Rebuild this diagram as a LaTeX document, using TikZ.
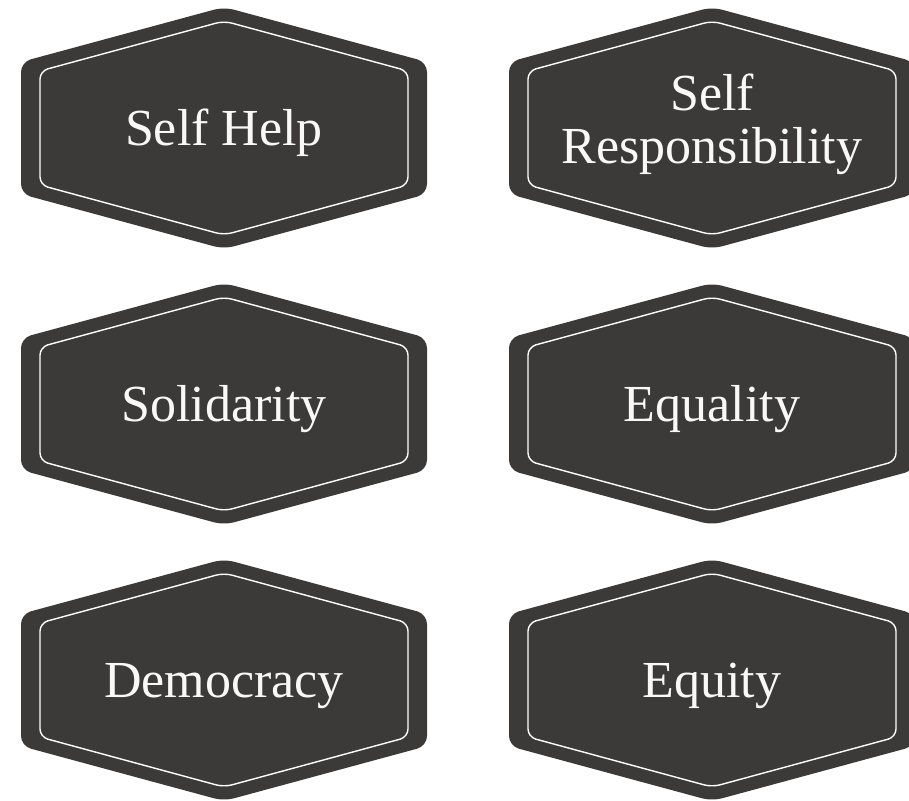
\documentclass[tikz,border=0pt]{standalone}
\usepackage{fontspec}
\setmainfont{Liberation Serif}
\definecolor{badge}{HTML}{3B3A39}
\definecolor{badgetext}{HTML}{F8F8F6}
\tikzset{
  hexbadge/.pic={
    \fill[badge, rounded corners=10pt] (0,121) -- (203,66) -- (203,-66) -- (0,-121) -- (-203,-66) -- (-203,66) -- cycle;
    \draw[white, line width=1.4pt, rounded corners=8pt] (0,107) -- (184,57) -- (184,-57) -- (0,-107) -- (-184,-57) -- (-184,57) -- cycle;
  },
  lbl/.style={text=badgetext, font=\fontsize{52}{53}\selectfont, align=center, anchor=base, inner sep=0pt}
}
\begin{document}
\begin{tikzpicture}[x=1pt,y=1pt]
\useasboundingbox (0,0) rectangle (909,-800);
\clip (0,0) rectangle (909,-800);
\pic at (224,-128) {hexbadge};
\pic at (712,-128) {hexbadge};
\pic at (224,-404) {hexbadge};
\pic at (712,-404) {hexbadge};
\pic at (224,-680) {hexbadge};
\pic at (712,-680) {hexbadge};
\node[lbl] (selfhelp) at (224,-145) {Self Help};
\node[lbl] (selfresp) at (712,-163) {Self\\Responsibility};
\node[lbl] (solidarity) at (224,-421) {Solidarity};
\node[lbl] (equality) at (712,-421) {Equality};
\node[lbl] (democracy) at (224,-697) {Democracy};
\node[lbl] (equity) at (712,-697) {Equity};
\end{tikzpicture}
\end{document}
